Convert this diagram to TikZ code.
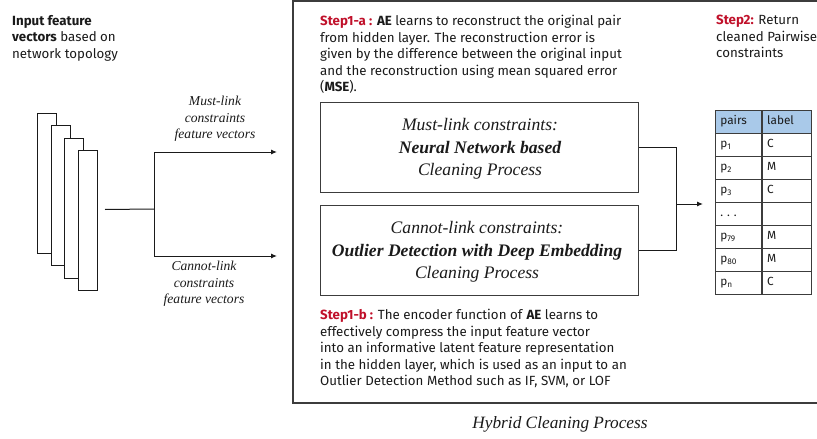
\documentclass[tikz,border=0pt]{standalone}
\usepackage{fontspec}
\setmainfont{Liberation Serif}
\newfontfamily\uifont{Fira Sans}
\usetikzlibrary{arrows.meta,calc}
\definecolor{stepred}{HTML}{C0102A}
\definecolor{hdrblue}{HTML}{A9C9E9}
\definecolor{ink}{HTML}{1A1A1A}
\newcommand{\steplbl}[1]{\textcolor{stepred}{\bfseries #1}}
\begin{document}
\begin{tikzpicture}[x=1pt,y=-1pt,
  sanstext/.style={inner sep=0pt, align=left, text=ink,
    font=\uifont\fontsize{13.3}{16.5}\selectfont},
  sidelabel/.style={inner sep=0pt, align=center, text=ink,
    font=\fontsize{13.6}{16.5}\selectfont\itshape},
  procbox/.style={draw=ink!85, line width=1pt, minimum width=318pt,
    minimum height=90pt, inner sep=0pt},
  boxtext/.style={inner sep=0pt, align=center, text=ink,
    font=\fontsize{17.6}{22.3}\selectfont\itshape},
  vecsheet/.style={draw=ink, fill=white, line width=1pt, anchor=north west,
    minimum width=19pt, minimum height=140pt, inner sep=0pt},
  conn/.style={line width=1pt, draw=ink},
  arr/.style={conn, -{Latex[length=6pt,width=5pt]}},
  cell/.style={draw=ink!85, line width=0.8pt, anchor=north west,
    minimum height=23pt, inner ysep=0pt, inner xsep=5pt, align=left,
    text height=8.5pt, text depth=2.5pt, text=ink,
    font=\uifont\fontsize{11.8}{13}\selectfont},
  colA/.style={cell, text width=36pt},
  colB/.style={cell, text width=39pt},
]
\useasboundingbox (0,0) rectangle (817,439);

% outer frame of the hybrid cleaning stage (open at the right)
\draw[ink!85, line width=1.2pt] (817,1) -- (293,1) -- (293,403) -- (817,403);

% input description
\node[sanstext, anchor=north west] (inputtxt) at (12,15)
  {\textbf{Input feature}\\\textbf{vectors} based on\\network topology};

% stacked feature-vector sheets
\node[vecsheet] (v1) at (37,113) {};
\node[vecsheet] (v2) at (50.7,125.3) {};
\node[vecsheet] (v3) at (64.3,137.7) {};
\node[vecsheet] (v4) at (78,150) {};

% splitter
\coordinate (split) at (154,209);
\coordinate (mlend) at (277,152);
\coordinate (clend) at (277,256);
\draw[conn] ($(v4.east)+(7,-11)$) -- (split);
\draw[conn] (154,152) -- (154,256);
\draw[arr] (154,152) -- (mlend);
\draw[arr] (154,256) -- (clend);

\node[sidelabel] (mllbl) at (215,119) {Must-link\\constraints\\feature vectors};
\node[sidelabel] (cllbl) at (204,284) {Cannot-link\\constraints\\feature vectors};

% step 1-a text
\node[sanstext, anchor=north west] (step1a) at (320,15)
  {\steplbl{Step1-a :} \textbf{AE} learns to reconstruct the original pair\\
   from hidden layer. The reconstruction error is\\
   given by the difference between the original input\\
   and the reconstruction using mean squared error\\
   (\textbf{MSE}).};

% cleaning process boxes
\node[procbox] (mustbox) at (479,147) {};
\node[boxtext] (musttxt) at (480,149)
  {Must-link constraints:\\\textbf{Neural Network based}\\Cleaning Process};
\node[procbox] (cannotbox) at (479,250) {};
\node[boxtext] (cannottxt) at (477,252)
  {Cannot-link constraints:\\\textbf{Outlier Detection with Deep Embedding}\\Cleaning Process};

% step 1-b text
\node[sanstext, anchor=north west] (step1b) at (320,309)
  {\steplbl{Step1-b :} The encoder function of \textbf{AE} learns to\\
   effectively compress the input feature vector\\
   into an informative latent feature representation\\
   in the hidden layer, which is used as an input to an\\
   Outlier Detection Method such as IF, SVM, or LOF};

\node[inner sep=0pt, text=ink, font=\fontsize{17.3}{20}\selectfont\itshape]
  (hybrid) at (560,424) {Hybrid Cleaning Process};

% step 2 text
\node[sanstext, anchor=north west] (step2) at (716,15)
  {\steplbl{Step2:} Return\\cleaned Pairwise\\constraints};

% result table
\node[colA, fill=hdrblue] (h1) at (715,110) {pairs};
\node[colB, fill=hdrblue] (h2) at (h1.north east) {label};
\foreach \i/\p/\l [count=\k] in {1/p\textsubscript{1}/C, 2/p\textsubscript{2}/M,
    3/p\textsubscript{3}/C, 4/.\ .\ ./, 5/p\textsubscript{79}/M,
    6/p\textsubscript{80}/M, 7/p\textsubscript{n}/C} {
  \node[colA] (a\i) at (715,{110+23*\k}) {\p};
  \node[colB] (b\i) at (a\i.north east) {\l};
}

% merge into the table
\coordinate (merge) at (676,204);
\coordinate (tip) at (703,204);
\draw[conn] (mustbox.east) -| (merge);
\draw[conn] (cannotbox.east) -| (merge);
\draw[arr] (merge) -- (tip);
\end{tikzpicture}
\end{document}
